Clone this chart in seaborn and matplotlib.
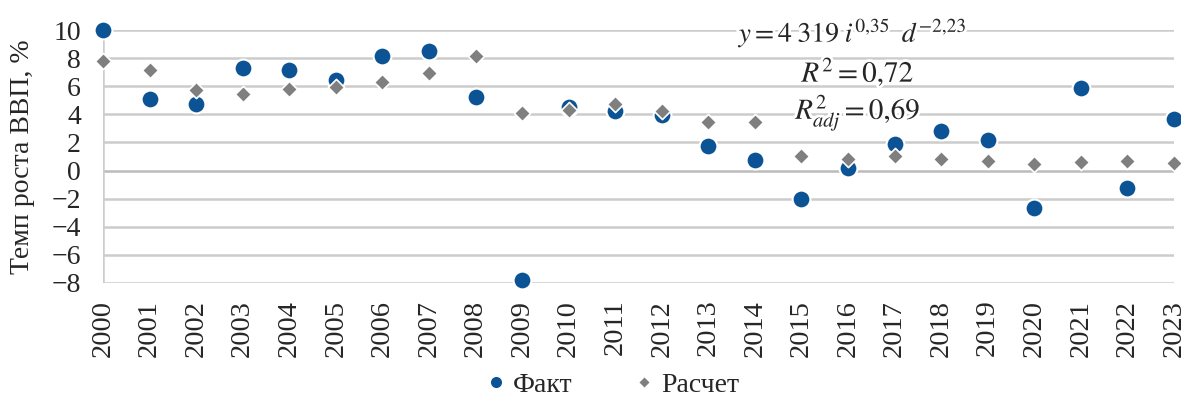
import matplotlib
matplotlib.use("Agg")
import matplotlib.pyplot as plt
import matplotlib.patheffects as pe
from matplotlib.lines import Line2D
import seaborn as sns
import pandas as pd

years = list(range(2000, 2024))
fact = [10.0, 5.07, 4.71, 7.27, 7.15, 6.42, 8.13, 8.51, 5.23, -7.81, 4.52, 4.21,
        3.93, 1.75, 0.73, -2.0, 0.18, 1.87, 2.79, 2.17, -2.66, 5.85, -1.26, 3.64]
calc = [7.77, 7.13, 5.73, 5.45, 5.83, 5.92, 6.28, 6.96, 8.15, 4.09, 4.33, 4.76,
        4.21, 3.45, 3.45, 1.04, 0.82, 1.01, 0.85, 0.70, 0.49, 0.59, 0.70, 0.56]
series_names = ["Факт", "Расчет"]
y_label = "Темп роста ВВП, %"
y_ticks = [-8, -6, -4, -2, 0, 2, 4, 6, 8, 10]

df = pd.DataFrame({
    "year": years * 2,
    "value": fact + calc,
    "series": [series_names[0]] * len(years) + [series_names[1]] * len(years),
})

sns.set_theme(style="white")
plt.rcParams["font.family"] = ["Liberation Serif", "DejaVu Serif"]
plt.rcParams["mathtext.fontset"] = "stix"

W, H = 1181, 403
fig = plt.figure(figsize=(W / 100, H / 100), dpi=100)
ax = fig.add_axes([103 / W, 1 - 283 / H, (1174 - 103) / W, 253 / H])

blue = "#0B5394"
gray = "#7F7F7F"
grid_c = "#CCCCCC"

for yv in y_ticks:
    ax.axhline(yv, color="#BBBBBB" if yv == 0 else grid_c, lw=1.8, zorder=0)
ax.axvline(2000, color=grid_c, lw=1.8, zorder=0)

sns.scatterplot(data=df[df.series == series_names[0]], x="year", y="value",
                color=blue, marker="o", s=165, edgecolor="white", linewidth=1.5,
                ax=ax, legend=False, zorder=3, clip_on=False)
sns.scatterplot(data=df[df.series == series_names[1]], x="year", y="value",
                color=gray, marker="D", s=68, edgecolor="white", linewidth=1.2,
                ax=ax, legend=False, zorder=4, clip_on=False)

ax.set_xlim(2000, 2023)
ax.set_ylim(-8, 10)
ax.set_yticks(y_ticks)
ax.set_yticklabels([("\u2212" + str(abs(v))) if v < 0 else str(v) for v in y_ticks])
ax.set_xticks(years)
ax.set_xticklabels([str(y) for y in years], rotation=90)
for s in ax.spines.values():
    s.set_visible(False)
ax.tick_params(axis="y", length=10, width=1.8, color=grid_c, labelsize=20, pad=6)
ax.tick_params(axis="x", length=0, labelsize=20.5, pad=12)
ax.set_xlabel("")
ax.set_ylabel(y_label, fontsize=20, labelpad=12)

halo = [pe.withStroke(linewidth=4, foreground="white")]
def ftext(x, y, s, size=21):
    fig.text(x / W, 1 - y / H, s, fontsize=size, ha="center", va="center",
             path_effects=halo, zorder=5)

ftext(853, 33, r"$y = 4\;319\;i^{0{,}35}\;\;d^{-2{,}23}$", size=20)
ftext(858, 72, r"$R^{2} = 0{,}72$")
ftext(858, 113, r"$R^{2}_{adj} = 0{,}69$")

handles = [
    Line2D([], [], marker="o", color=blue, ls="", markersize=9, markeredgecolor="white"),
    Line2D([], [], marker="D", color=gray, ls="", markersize=6.5, markeredgecolor="white"),
]
fig.legend(handles, series_names, loc="center", bbox_to_anchor=(0.517, 0.045),
           ncol=2, frameon=False, fontsize=20, handletextpad=0.1, columnspacing=2.1,
           handlelength=1.0)

fig.savefig("out.png", dpi=100)
